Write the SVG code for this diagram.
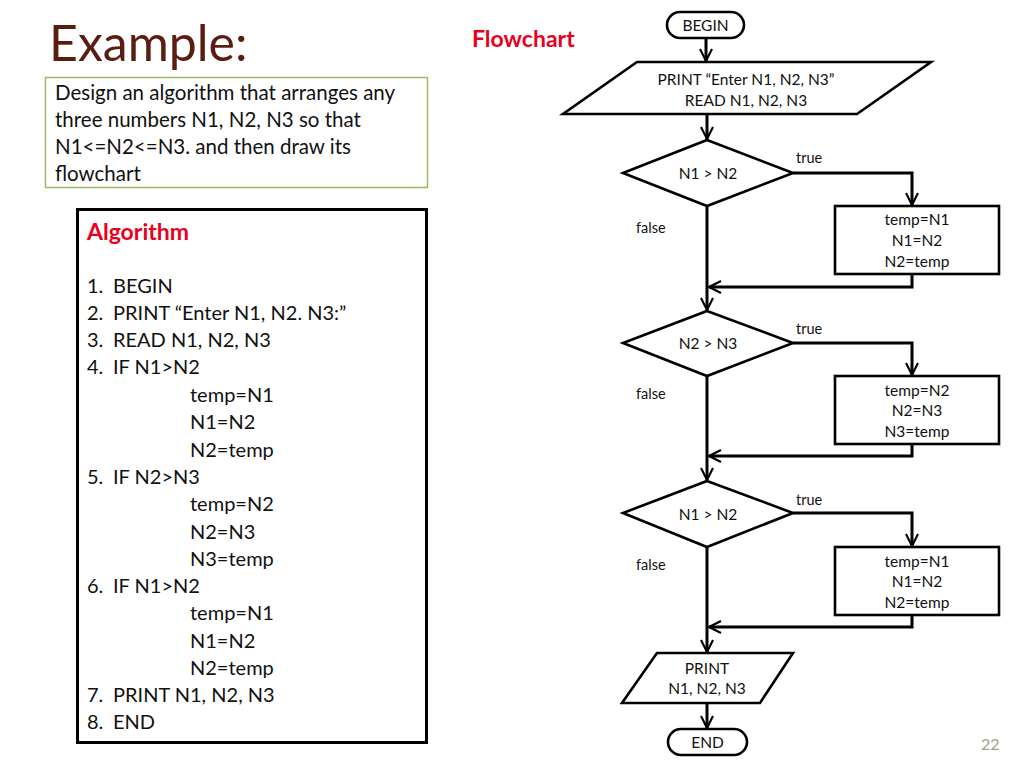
<svg xmlns="http://www.w3.org/2000/svg" width="1024" height="768" viewBox="0 0 1024 768">
<defs>
<style>
text{font-family:Lato,"Open Sans","Liberation Sans",sans-serif;fill:#111}
.title{font-size:50px;fill:#5b1d12}
.prob{font-size:20.5px}
.alg{font-size:20px}
.red{fill:#e8001c;font-weight:bold;font-size:23px}
.fc{font-size:15.5px;text-anchor:middle}
.lbl{font-size:14.5px}
.shape{fill:#fff;stroke:#000;stroke-width:2.6}
.conn{fill:none;stroke:#000;stroke-width:3;marker-end:url(#arr)}
</style>
<marker id="arr" viewBox="0 0 10 10" refX="9" refY="5" markerWidth="5" markerHeight="5" orient="auto" markerUnits="strokeWidth">
<path d="M1,1 L9,5 L1,9" fill="none" stroke="#000" stroke-width="1.4"/>
</marker>
</defs>
<rect width="1024" height="768" fill="#fff"/>

<g id="title"><text x="49" y="61" class="title">Example:</text></g>

<g id="problem">
<rect x="45.5" y="77.5" width="382" height="110" fill="#fff" stroke="#9cba5f" stroke-width="1.5"/>
<text x="55" y="100" class="prob">Design an algorithm that arranges any</text>
<text x="55" y="127" class="prob">three numbers N1, N2, N3 so that</text>
<text x="55" y="154" class="prob">N1&lt;=N2&lt;=N3. and then draw its</text>
<text x="55" y="181" class="prob">flowchart</text>
</g>

<g id="algorithm">
<rect x="77.5" y="209.5" width="349" height="533" fill="#fff" stroke="#000" stroke-width="3"/>
<text x="87" y="240" class="red">Algorithm</text>
<text class="alg" x="87" y="293">1.</text><text class="alg" x="113" y="293">BEGIN</text>
<text class="alg" x="87" y="320">2.</text><text class="alg" x="113" y="320">PRINT “Enter N1, N2. N3:”</text>
<text class="alg" x="87" y="347">3.</text><text class="alg" x="113" y="347">READ N1, N2, N3</text>
<text class="alg" x="87" y="374">4.</text><text class="alg" x="113" y="374">IF N1&gt;N2</text>
<text class="alg" x="190" y="402">temp=N1</text>
<text class="alg" x="190" y="429">N1=N2</text>
<text class="alg" x="190" y="457">N2=temp</text>
<text class="alg" x="87" y="484">5.</text><text class="alg" x="113" y="484">IF N2&gt;N3</text>
<text class="alg" x="190" y="511">temp=N2</text>
<text class="alg" x="190" y="539">N2=N3</text>
<text class="alg" x="190" y="566">N3=temp</text>
<text class="alg" x="87" y="593">6.</text><text class="alg" x="113" y="593">IF N1&gt;N2</text>
<text class="alg" x="190" y="620">temp=N1</text>
<text class="alg" x="190" y="648">N1=N2</text>
<text class="alg" x="190" y="675">N2=temp</text>
<text class="alg" x="87" y="702">7.</text><text class="alg" x="113" y="702">PRINT N1, N2, N3</text>
<text class="alg" x="87" y="729">8.</text><text class="alg" x="113" y="729">END</text>
</g>

<g id="flowchart-title"><text x="472" y="47" class="red">Flowchart</text></g>

<g id="connectors">
<line x1="706" y1="38" x2="706" y2="61" class="conn"/>
<line x1="707" y1="114" x2="707" y2="139" class="conn"/>
<polyline points="793,173 912,173 912,205" class="conn"/>
<polyline points="912,274 912,287 709,287" class="conn"/>
<line x1="707" y1="206" x2="707" y2="310" class="conn"/>
<polyline points="793,343 912,343 912,375" class="conn"/>
<polyline points="912,444 912,456 709,456" class="conn"/>
<line x1="707" y1="376" x2="707" y2="480" class="conn"/>
<polyline points="793,513 912,513 912,546" class="conn"/>
<polyline points="912,615 912,627 709,627" class="conn"/>
<line x1="707" y1="547" x2="707" y2="652" class="conn"/>
<line x1="707" y1="703" x2="707" y2="728" class="conn"/>
</g>

<g id="begin">
<rect x="667" y="12" width="77" height="26" rx="13" class="shape"/>
<text x="705.5" y="30.5" class="fc">BEGIN</text>
</g>

<g id="input">
<polygon points="637,62 931,62 857,114 563,114" class="shape"/>
<text x="746" y="85" class="fc">PRINT “Enter N1, N2, N3”</text>
<text x="746" y="106" class="fc">READ N1, N2, N3</text>
</g>

<g id="dec1">
<polygon points="707,140 793,173 707,206 623,173" class="shape"/>
<text x="708" y="179" class="fc">N1 &gt; N2</text>
<text x="796" y="163" class="lbl">true</text>
<text x="636" y="233" class="lbl">false</text>
</g>
<g id="swap1">
<rect x="835" y="206" width="164" height="68" class="shape"/>
<text x="917" y="225" class="fc">temp=N1</text>
<text x="917" y="246" class="fc">N1=N2</text>
<text x="917" y="267" class="fc">N2=temp</text>
</g>

<g id="dec2">
<polygon points="707,311 793,343 707,376 623,343" class="shape"/>
<text x="708" y="349" class="fc">N2 &gt; N3</text>
<text x="796" y="334" class="lbl">true</text>
<text x="636" y="399" class="lbl">false</text>
</g>
<g id="swap2">
<rect x="835" y="376" width="164" height="68" class="shape"/>
<text x="917" y="396" class="fc">temp=N2</text>
<text x="917" y="416" class="fc">N2=N3</text>
<text x="917" y="437" class="fc">N3=temp</text>
</g>

<g id="dec3">
<polygon points="707,481 793,513 707,547 623,513" class="shape"/>
<text x="708" y="520" class="fc">N1 &gt; N2</text>
<text x="796" y="505" class="lbl">true</text>
<text x="636" y="570" class="lbl">false</text>
</g>
<g id="swap3">
<rect x="835" y="547" width="164" height="68" class="shape"/>
<text x="917" y="567" class="fc">temp=N1</text>
<text x="917" y="587" class="fc">N1=N2</text>
<text x="917" y="608" class="fc">N2=temp</text>
</g>

<g id="output">
<polygon points="657,653 793,653 760,703 622,703" class="shape"/>
<text x="707" y="674" class="fc">PRINT</text>
<text x="707" y="694" class="fc">N1, N2, N3</text>
</g>

<g id="end">
<rect x="668" y="729" width="79" height="26" rx="13" class="shape"/>
<text x="707.5" y="747.5" class="fc">END</text>
</g>

<g id="page"><text x="981" y="750" style="font-size:16px;fill:#a39d85">22</text></g>
</svg>
